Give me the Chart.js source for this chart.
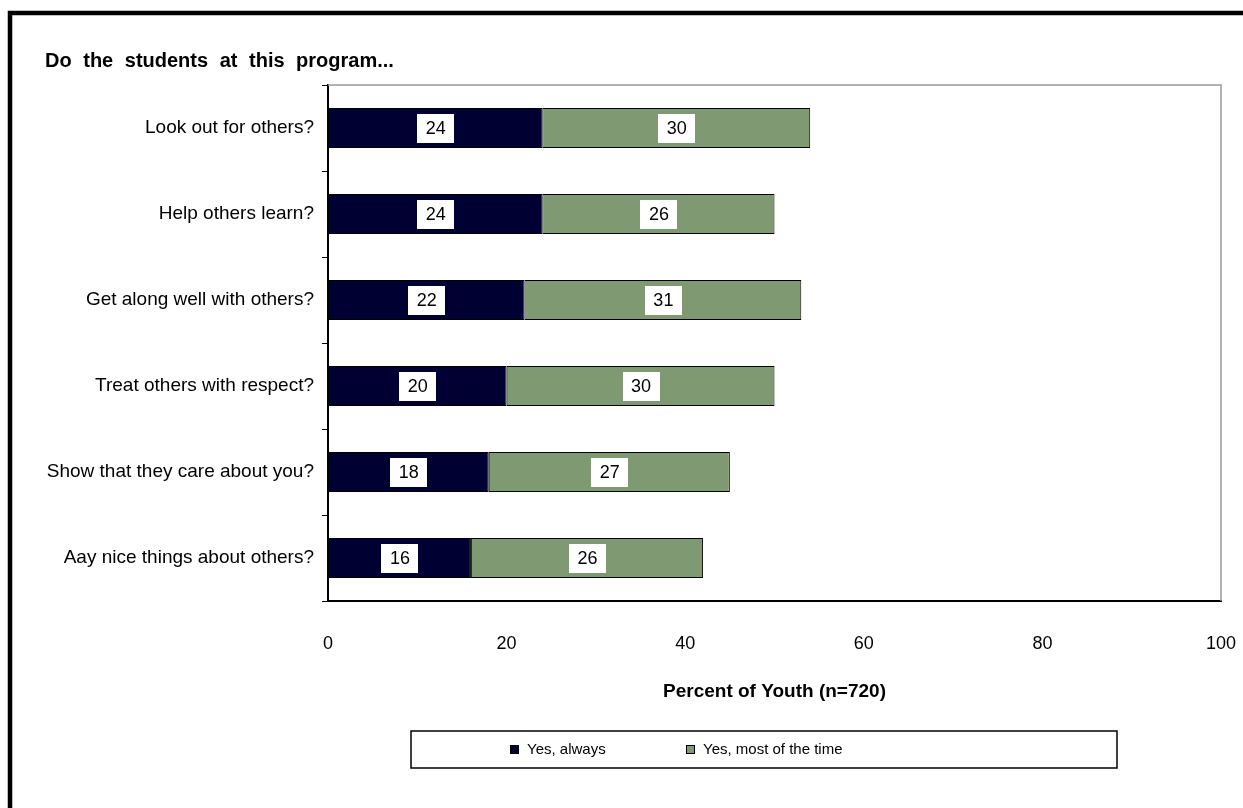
<!DOCTYPE html>
<html>
<head>
<meta charset="utf-8">
<script src="https://cdn.jsdelivr.net/npm/chart.js@4/dist/chart.umd.min.js"></script>
<style>
  html, body { margin: 0; padding: 0; background: #fff; }
  canvas { display: block; }
</style>
</head>
<body>
<canvas id="chart" width="1243" height="808"></canvas>
<script>
// Data
const questions = [
    'Look out for others?',
    'Help others learn?',
    'Get along well with others?',
    'Treat others with respect?',
    'Show that they care about you?',
    'Aay nice things about others?'
];
const alwaysValues = [24, 24, 22, 20, 18, 16];
const mostValues = [30, 26, 31, 30, 27, 26];
const seriesNames = ['Yes, always', 'Yes, most of the time'];
const xTicks = [0, 20, 40, 60, 80, 100];

const chartTitle = 'Do the students at this program...';
const axisTitle = 'Percent of Youth (n=720)';

const FONT = "'Liberation Sans', Arial, sans-serif";

// frame, plot border, value boxes, titles and legend box
const decorPlugin = {
    id: 'decor',
    afterDatasetsDraw(chart) {
        const c = chart.ctx;
        const area = chart.chartArea;

        // gray top/right edge of the plot area
        c.save();
        c.strokeStyle = '#999999';
        c.lineWidth = 1.5;
        c.beginPath();
        c.moveTo(area.left, area.top);
        c.lineTo(area.right, area.top);
        c.lineTo(area.right, area.bottom);
        c.stroke();
        c.restore();

        // white value boxes in each segment
        c.save();
        c.font = '18px ' + FONT;
        c.textAlign = 'center';
        c.textBaseline = 'middle';
        chart.data.datasets.forEach((ds, i) => {
            const meta = chart.getDatasetMeta(i);
            meta.data.forEach((bar, j) => {
                const x = (bar.x + bar.base) / 2;
                const y = bar.y;
                c.fillStyle = '#ffffff';
                c.fillRect(Math.round(x - 18), Math.round(y - 14), 37, 29);
                c.fillStyle = '#000000';
                c.fillText(String(ds.data[j]), x + 0.5, y + 1);
            });
        });
        c.restore();
    },
    afterDraw(chart) {
        const c = chart.ctx;
        const area = chart.chartArea;
        c.save();

        // outer frame (runs off the right and bottom of the picture)
        c.strokeStyle = '#000000';
        c.lineWidth = 4.5;
        c.strokeRect(10, 13, 1400, 1000);

        // chart title, words set a little apart
        c.fillStyle = '#000000';
        c.font = 'bold 20px ' + FONT;
        c.textAlign = 'left';
        c.textBaseline = 'alphabetic';
        let tx = 45;
        chartTitle.split(' ').forEach(w => {
            c.fillText(w, tx, 67);
            tx += c.measureText(w + ' ').width + 6;
        });

        // x axis title
        c.font = 'bold 19px ' + FONT;
        c.textAlign = 'center';
        c.fillText(axisTitle, (area.left + area.right) / 2, 697);

        // legend box
        c.strokeStyle = '#000000';
        c.lineWidth = 1.5;
        c.strokeRect(411, 731, 706, 37);
        const items = [
            { x: 510, ds: chart.data.datasets[0] },
            { x: 686, ds: chart.data.datasets[1] }
        ];
        c.font = '15px ' + FONT;
        c.textAlign = 'left';
        c.textBaseline = 'middle';
        c.lineWidth = 1;
        items.forEach(it => {
            c.fillStyle = it.ds.backgroundColor;
            c.fillRect(it.x, 745, 9, 9);
            c.strokeStyle = '#000000';
            c.strokeRect(it.x + 0.5, 745.5, 8, 8);
            c.fillStyle = '#000000';
            c.fillText(it.ds.label, it.x + 17, 750);
        });

        c.restore();
    }
};

new Chart(document.getElementById('chart'), {
    type: 'bar',
    data: {
        labels: questions,
        datasets: [
            {
                label: seriesNames[0],
                data: alwaysValues,
                backgroundColor: '#000033',
                borderColor: '#000000',
                borderWidth: 1,
                borderSkipped: false,
                barPercentage: 0.465,
                categoryPercentage: 1
            },
            {
                label: seriesNames[1],
                data: mostValues,
                backgroundColor: '#7f9a72',
                borderColor: '#000000',
                borderWidth: 1,
                borderSkipped: false,
                barPercentage: 0.465,
                categoryPercentage: 1
            }
        ]
    },
    options: {
        indexAxis: 'y',
        responsive: false,
        animation: false,
        layout: {
            padding: { left: 0, top: 85, right: 22, bottom: 157 }
        },
        scales: {
            x: {
                stacked: true,
                min: 0,
                max: 100,
                afterBuildTicks: (scale) => {
                    scale.ticks = xTicks.map(v => ({ value: v }));
                },
                grid: { display: false },
                border: { display: true, color: '#000000', width: 2 },
                ticks: {
                    color: '#000000',
                    font: { family: FONT, size: 18 },
                    padding: 24,
                    maxRotation: 0
                },
                afterFit: (scale) => {
                    scale.height = 50;
                    scale.paddingLeft = 0;
                    scale.paddingRight = 0;
                }
            },
            y: {
                stacked: true,
                grid: {
                    offset: true,
                    drawOnChartArea: false,
                    drawTicks: true,
                    tickLength: 6,
                    color: '#000000',
                    lineWidth: 1
                },
                border: { display: true, color: '#000000', width: 2 },
                ticks: {
                    color: '#000000',
                    font: { family: FONT, size: 19 },
                    padding: 8
                },
                afterFit: (scale) => { scale.width = 328; }
            }
        },
        plugins: {
            legend: { display: false },
            title: { display: false },
            tooltip: { enabled: false }
        }
    },
    plugins: [decorPlugin]
});
</script>
</body>
</html>
